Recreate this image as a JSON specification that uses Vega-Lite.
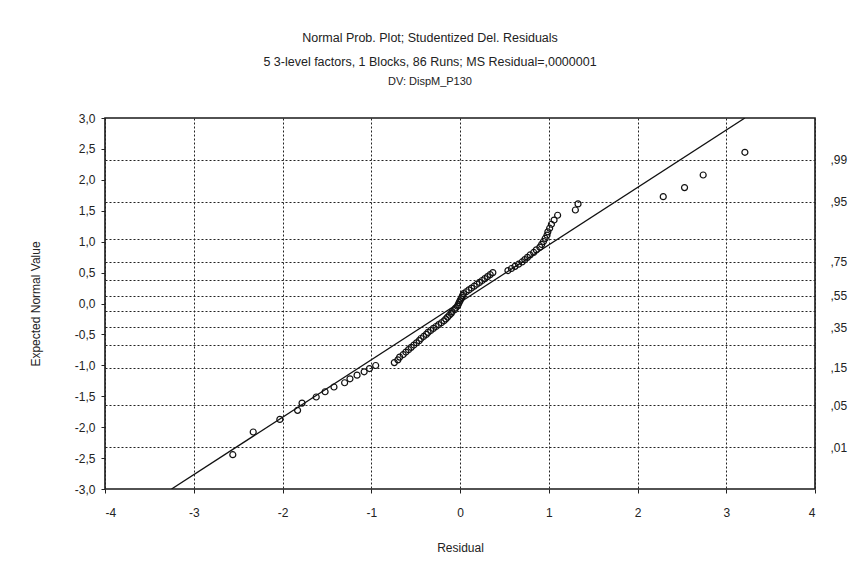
{
  "$schema": "https://vega.github.io/schema/vega-lite/v6.json",
  "width": 710,
  "height": 371,
  "autosize": {"type": "none"},
  "padding": {"left": 105, "top": 118, "right": 44, "bottom": 76},
  "background": "white",
  "config": {
    "font": "Liberation Sans",
    "view": {"stroke": "#1a1a1a", "strokeWidth": 1.6},
    "axis": {"labelFont": "Liberation Sans", "titleFont": "Liberation Sans", "labelColor": "#222", "titleColor": "#222", "labelFontSize": 12, "titleFontSize": 12, "titleFontWeight": "normal", "domain": false}
  },
  "title": {
    "text": ["Normal Prob. Plot; Studentized Del. Residuals", "5 3-level factors, 1 Blocks, 86 Runs; MS Residual=,0000001"],
    "subtitle": "DV: DispM_P130",
    "anchor": "middle",
    "frame": "group",
    "dx": -30,
    "font": "Liberation Sans",
    "fontSize": 12.5,
    "fontWeight": "normal",
    "color": "#222",
    "lineHeight": 24,
    "subtitleFont": "Liberation Sans",
    "subtitleFontSize": 11,
    "subtitleColor": "#222",
    "subtitlePadding": 8,
    "offset": 25
  },
  "datasets": {
    "fit": [
      {"residual": -3.25, "expected": -3.0},
      {"residual": 3.21, "expected": 3.0}
    ],
    "points": [
      {"residual": -2.56, "expected": -2.445},
      {"residual": -2.33, "expected": -2.078},
      {"residual": -2.03, "expected": -1.874},
      {"residual": -1.83, "expected": -1.728},
      {"residual": -1.78, "expected": -1.611},
      {"residual": -1.62, "expected": -1.512},
      {"residual": -1.52, "expected": -1.427},
      {"residual": -1.42, "expected": -1.350},
      {"residual": -1.30, "expected": -1.282},
      {"residual": -1.24, "expected": -1.218},
      {"residual": -1.16, "expected": -1.159},
      {"residual": -1.08, "expected": -1.105},
      {"residual": -1.02, "expected": -1.052},
      {"residual": -0.95, "expected": -1.003},
      {"residual": -0.74, "expected": -0.956},
      {"residual": -0.70, "expected": -0.911},
      {"residual": -0.68, "expected": -0.867},
      {"residual": -0.64, "expected": -0.826},
      {"residual": -0.61, "expected": -0.785},
      {"residual": -0.58, "expected": -0.746},
      {"residual": -0.55, "expected": -0.709},
      {"residual": -0.52, "expected": -0.672},
      {"residual": -0.49, "expected": -0.636},
      {"residual": -0.46, "expected": -0.601},
      {"residual": -0.44, "expected": -0.566},
      {"residual": -0.41, "expected": -0.533},
      {"residual": -0.38, "expected": -0.500},
      {"residual": -0.36, "expected": -0.467},
      {"residual": -0.33, "expected": -0.435},
      {"residual": -0.30, "expected": -0.403},
      {"residual": -0.27, "expected": -0.372},
      {"residual": -0.24, "expected": -0.341},
      {"residual": -0.21, "expected": -0.311},
      {"residual": -0.18, "expected": -0.280},
      {"residual": -0.16, "expected": -0.250},
      {"residual": -0.14, "expected": -0.220},
      {"residual": -0.12, "expected": -0.190},
      {"residual": -0.10, "expected": -0.161},
      {"residual": -0.09, "expected": -0.131},
      {"residual": -0.06, "expected": -0.102},
      {"residual": -0.05, "expected": -0.073},
      {"residual": -0.03, "expected": -0.044},
      {"residual": -0.02, "expected": -0.015},
      {"residual": -0.01, "expected": 0.015},
      {"residual": 0.00, "expected": 0.044},
      {"residual": 0.01, "expected": 0.073},
      {"residual": 0.02, "expected": 0.102},
      {"residual": 0.03, "expected": 0.131},
      {"residual": 0.04, "expected": 0.161},
      {"residual": 0.07, "expected": 0.190},
      {"residual": 0.10, "expected": 0.220},
      {"residual": 0.13, "expected": 0.250},
      {"residual": 0.16, "expected": 0.280},
      {"residual": 0.19, "expected": 0.311},
      {"residual": 0.22, "expected": 0.341},
      {"residual": 0.25, "expected": 0.372},
      {"residual": 0.28, "expected": 0.403},
      {"residual": 0.31, "expected": 0.435},
      {"residual": 0.34, "expected": 0.467},
      {"residual": 0.37, "expected": 0.500},
      {"residual": 0.54, "expected": 0.533},
      {"residual": 0.58, "expected": 0.566},
      {"residual": 0.62, "expected": 0.601},
      {"residual": 0.66, "expected": 0.636},
      {"residual": 0.70, "expected": 0.672},
      {"residual": 0.73, "expected": 0.709},
      {"residual": 0.76, "expected": 0.746},
      {"residual": 0.79, "expected": 0.785},
      {"residual": 0.83, "expected": 0.826},
      {"residual": 0.86, "expected": 0.867},
      {"residual": 0.90, "expected": 0.911},
      {"residual": 0.92, "expected": 0.956},
      {"residual": 0.94, "expected": 1.003},
      {"residual": 0.96, "expected": 1.052},
      {"residual": 0.98, "expected": 1.105},
      {"residual": 0.99, "expected": 1.159},
      {"residual": 1.01, "expected": 1.218},
      {"residual": 1.03, "expected": 1.282},
      {"residual": 1.06, "expected": 1.350},
      {"residual": 1.10, "expected": 1.427},
      {"residual": 1.30, "expected": 1.512},
      {"residual": 1.33, "expected": 1.611},
      {"residual": 2.29, "expected": 1.728},
      {"residual": 2.53, "expected": 1.874},
      {"residual": 2.74, "expected": 2.078},
      {"residual": 3.21, "expected": 2.445}
    ]
  },
  "layer": [
    {
      "data": {"name": "fit"},
      "mark": {"type": "line", "color": "#111", "strokeWidth": 1.3, "clip": true},
      "encoding": {
        "x": {
          "field": "residual", "type": "quantitative",
          "scale": {"domain": [-4, 4], "nice": false, "zero": false},
          "axis": {
            "orient": "bottom", "values": [-4, -3, -2, -1, 0, 1, 2, 3, 4],
            "labelExpr": "replace(format(datum.value, 'd'), '\u2212', '-')", "title": "Residual",
            "grid": true, "gridColor": "#222", "gridDash": [2, 2], "gridWidth": 1,
            "ticks": true, "tickSize": 4, "tickColor": "#222",
            "labelPadding": 14, "titlePadding": 24
          }
        },
        "y": {
          "field": "expected", "type": "quantitative",
          "scale": {"domain": [-3, 3], "nice": false, "zero": false},
          "axis": {
            "orient": "right", "title": null,
            "values": [-2.326, -1.645, -1.036, -0.674, -0.385, -0.126, 0.126, 0.385, 0.674, 1.036, 1.645, 2.326],
            "labelExpr": "datum.value > 2 ? ',99' : datum.value > 1.5 ? ',95' : datum.value > 0.9 ? '' : datum.value > 0.6 ? ',75' : datum.value > 0.3 ? '' : datum.value > 0 ? ',55' : datum.value > -0.2 ? '' : datum.value > -0.5 ? ',35' : datum.value > -0.8 ? '' : datum.value > -1.2 ? ',15' : datum.value > -2 ? ',05' : ',01'",
            "grid": true, "gridColor": "#222", "gridDash": [2, 2], "gridWidth": 1,
            "ticks": false, "labelPadding": 15, "labelAlign": "left"
          }
        }
      }
    },
    {
      "data": {"name": "points"},
      "mark": {"type": "point", "filled": false, "stroke": "#111", "strokeWidth": 1.2, "size": 36, "opacity": 1},
      "encoding": {
        "x": {
          "field": "residual", "type": "quantitative",
          "scale": {"domain": [-4, 4], "nice": false, "zero": false},
          "axis": {
            "orient": "bottom", "values": [-4, -3, -2, -1, 0, 1, 2, 3, 4],
            "labelExpr": "replace(format(datum.value, 'd'), '\u2212', '-')", "title": "Residual",
            "grid": true, "gridColor": "#222", "gridDash": [2, 2], "gridWidth": 1,
            "ticks": true, "tickSize": 4, "tickColor": "#222",
            "labelPadding": 14, "titlePadding": 24
          }
        },
        "y": {
          "field": "expected", "type": "quantitative",
          "scale": {"domain": [-3, 3], "nice": false, "zero": false},
          "axis": {
            "orient": "left", "title": "Expected Normal Value",
            "values": [-3, -2.5, -2, -1.5, -1, -0.5, 0, 0.5, 1, 1.5, 2, 2.5, 3],
            "labelExpr": "replace(replace(format(datum.value, '.1f'), '.', ','), '\u2212', '-')",
            "grid": false, "ticks": true, "tickSize": 4, "tickColor": "#222",
            "labelPadding": 6, "titlePadding": 32
          }
        }
      }
    }
  ],
  "resolve": {"scale": {"y": "independent"}}
}
